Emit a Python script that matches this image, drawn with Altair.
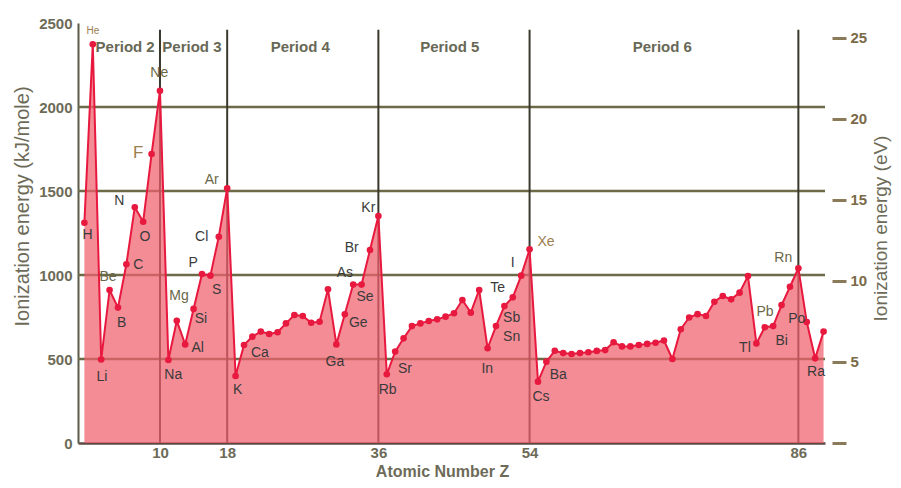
import altair as alt
import pandas as pd

# ---------------- data ----------------
Z = list(range(1, 90))
ie_kj = [1311, 2373, 497, 911, 806, 1064, 1403, 1317, 1720, 2097,
         494, 728, 587, 798, 1006, 996, 1228, 1516,
         399, 583, 633, 663, 649, 659, 712, 762, 756, 716, 722, 915,
         587, 766, 943, 943, 1149, 1351,
         409, 544, 623, 696, 712, 726, 736, 752, 772, 851, 776, 911,
         564, 696, 815, 867, 996, 1153,
         365, 484, 549, 535, 530, 535, 540, 548, 553, 600, 575, 575,
         583, 590, 597, 610, 500, 677, 747, 767, 756, 841, 875, 855,
         895, 994, 593, 689, 696, 821, 930, 1040,
         720, 504, 663]

label_sym = ["He", "H", "Li", "Be", "B", "C", "N", "O", "F", "Ne",
             "Na", "Mg", "Al", "Si", "P", "S", "Cl", "Ar",
             "K", "Ca", "Ga", "Ge", "As", "Se", "Br", "Kr",
             "Rb", "Sr", "In", "Sn", "Sb", "Te", "I", "Xe",
             "Cs", "Ba", "Tl", "Pb", "Bi", "Po", "Rn", "Ra"]
label_z = [2.02, 1.39, 3.10, 3.81, 5.44, 7.42, 5.15, 8.21, 7.42, 9.92,
           11.58, 12.26, 14.49, 14.88, 13.96, 16.75, 14.96, 16.15,
           19.25, 21.90, 30.83, 33.61, 32.02, 34.40, 32.82, 34.80,
           37.11, 39.17, 48.96, 51.87, 51.87, 50.20, 51.99, 55.95,
           55.36, 57.42, 79.64, 82.02, 84.01, 85.80, 84.20, 88.10]
label_kj = [2452, 1238, 393, 991, 716, 1060, 1440, 1224, 1724, 2200,
            405, 877, 564, 738, 1070, 911, 1224, 1565,
            315, 537, 484, 712, 1014, 867, 1159, 1397,
            315, 440, 439, 629, 746, 921, 1070, 1198,
            272, 405, 564, 781, 609, 736, 1099, 424]
olive_labels = ["Be", "Ne", "Mg", "Ar", "Pb", "Rn"]
tan_labels = ["He", "F", "Xe"]
label_font = {"He": 10, "F": 17}

period_names = ["Period 2", "Period 3", "Period 4", "Period 5", "Period 6"]
period_z = [5.85, 13.8, 26.7, 44.5, 69.8]
period_kj = 2357

x_ticks = [10, 18, 36, 54, 86]
y_ticks = [0, 500, 1000, 1500, 2000, 2500]
ev_ticks = [0, 5, 10, 15, 20, 25]
grid_kj = [500, 1000, 1500, 2000]
vline_z = [10, 18, 36, 54, 86]
vline_top = 2460
KJ_PER_EV = 96.485
X_DOMAIN = [0.24, 89.17]
Y_DOMAIN = [0, 2500]

# ---------------- tables ----------------
df = pd.DataFrame({"Z": Z, "kj": ie_kj})


def tone(s):
    if s in tan_labels:
        return "tan"
    if s in olive_labels:
        return "olive"
    return "dark"


labels = pd.DataFrame({
    "sym": label_sym, "lz": label_z, "lkj": label_kj,
    "tone": [tone(s) for s in label_sym],
    "fs": [label_font.get(s, 14) for s in label_sym],
})
periods = pd.DataFrame({"name": period_names, "pz": period_z,
                        "pkj": [period_kj] * len(period_names)})
hgrid = pd.DataFrame({"kj": grid_kj})
vgrid = pd.DataFrame({"Z": vline_z})

FONT = "Liberation Sans"
AXIS_TXT = "#6d6b58"

xscale = alt.Scale(domain=X_DOMAIN, nice=False, zero=False)
yscale = alt.Scale(domain=Y_DOMAIN, nice=False, zero=True)

xaxis = alt.Axis(values=x_ticks, title="Atomic Number Z", ticks=False, grid=False,
                 domainColor="#5d4a44", domainWidth=2.5,
                 labelFont=FONT, labelFontSize=15, labelFontWeight="bold",
                 labelColor=AXIS_TXT, labelPadding=2,
                 titleFont=FONT, titleFontSize=16, titleFontWeight="bold",
                 titleColor=AXIS_TXT, titleX=364, titleY=33,
                 titleBaseline="alphabetic")
yaxis = alt.Axis(values=y_ticks, format="d", title="Ionization energy (kJ/mole)",
                 ticks=False, grid=False, domainColor="#5d5b48", domainWidth=2,
                 labelFont=FONT, labelFontSize=15, labelFontWeight="bold",
                 labelColor=AXIS_TXT, labelPadding=6,
                 titleFont=FONT, titleFontSize=20, titleFontWeight="normal",
                 titleColor=AXIS_TXT, titleX=-56, titleY=183,
                 titleBaseline="middle", titleAngle=270)
evaxis = alt.Axis(orient="right", values=ev_ticks,
                  labelExpr="datum.value == 0 ? '' : datum.label",
                  domain=False, grid=False, ticks=True, tickSize=14, tickWidth=3,
                  tickColor="#8a7a5a", offset=7, labelPadding=4,
                  labelFont=FONT, labelFontSize=15, labelFontWeight="bold",
                  labelColor="#7a6a48",
                  title="Ionization energy (eV)", titleFont=FONT, titleFontSize=19,
                  titleFontWeight="normal", titleColor=AXIS_TXT, titleAngle=270,
                  titleX=48, titleY=205, titleBaseline="middle")


def X(field):
    return alt.X(field, type="quantitative", scale=xscale, axis=xaxis)


def Y(field):
    return alt.Y(field, type="quantitative", scale=yscale, axis=yaxis)


hrules = alt.Chart(hgrid).mark_rule(color="#6d6a48", strokeWidth=2.5).encode(
    y=Y("kj"),
    x=alt.X(datum=X_DOMAIN[0], scale=xscale, axis=xaxis),
    x2=alt.X2(datum=X_DOMAIN[1]),
)
vrules = alt.Chart(vgrid).mark_rule(color="#3a382c", strokeWidth=2).encode(
    x=X("Z"),
    y=alt.Y(datum=0, scale=yscale, axis=yaxis),
    y2=alt.Y2(datum=vline_top),
)
area = alt.Chart(df).mark_area(color="#f0606e", opacity=0.72).encode(
    x=X("Z"), y=Y("kj"))
line = alt.Chart(df).mark_line(color="#e8193f", strokeWidth=2).encode(
    x=X("Z"), y=Y("kj"))
pts = alt.Chart(df).mark_circle(color="#e8193f", size=44, opacity=1).encode(
    x=X("Z"), y=Y("kj"))
txt = alt.Chart(labels).mark_text(font=FONT, align="center", baseline="middle").encode(
    x=X("lz"), y=Y("lkj"), text="sym:N",
    size=alt.Size("fs:Q", scale=None, legend=None),
    color=alt.Color("tone:N", legend=None,
                    scale=alt.Scale(domain=["dark", "olive", "tan"],
                                    range=["#3a3a3a", "#6a6748", "#9b7d4e"])),
)
ptxt = alt.Chart(periods).mark_text(font=FONT, fontSize=15, fontWeight="bold",
                                     color="#686856", align="center",
                                     baseline="middle").encode(
    x=X("pz"), y=Y("pkj"), text="name:N")

main = alt.layer(hrules, vrules, area, line, pts, txt, ptxt)

evlayer = alt.Chart(df).transform_calculate(
    ev=f"datum.kj / {KJ_PER_EV}"
).mark_line(opacity=0).encode(
    x=X("Z"),
    y=alt.Y("ev:Q", scale=alt.Scale(domain=[0, Y_DOMAIN[1] / KJ_PER_EV], nice=False,
                                    zero=True), axis=evaxis),
)

chart = alt.layer(main, evlayer).resolve_scale(y="independent").properties(
    width=747, height=420,
    padding={"left": 70, "top": 15, "right": 68, "bottom": 37},
    autosize=alt.AutoSizeParams(type="none"),
    background="white",
).configure_view(stroke=None)

chart.save("out.html", embed_options={"renderer": "svg", "actions": False})
